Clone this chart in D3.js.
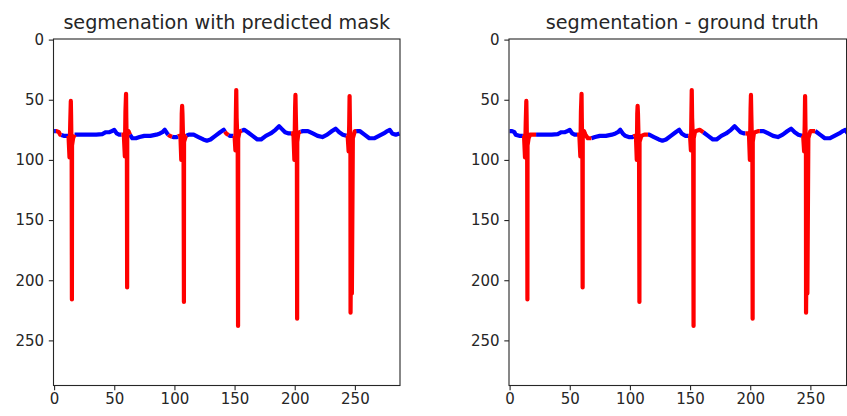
<!DOCTYPE html>
<html>
<head>
<meta charset="utf-8">
<script src="https://cdn.jsdelivr.net/npm/d3@7"></script>
<style>
  html, body { margin: 0; padding: 0; background: #fff; }
  svg { display: block; }
  .tick text { font-family: "DejaVu Sans", sans-serif; fill: #262626; }
  .title { font-family: "DejaVu Sans", sans-serif; fill: #262626; }
</style>
</head>
<body>
<svg id="chart" width="847" height="416"></svg>
<script>
// ECG trace rasterised into a 288 x 288 image (x = sample column, y = image row, 0 at top)
const signalX = [
  0, 2, 4, 5, 8, 11,
  12, 12.8, 13.4, 13.9, 14.1, 14.6, 14.8, 14.9, 15.8, 17,
  20, 25, 30, 35, 40, 43, 46, 48, 50, 52, 54, 57,
  58, 58.8, 59.3, 59.8, 60.0, 60.5, 60.7, 60.8, 61.8, 63,
  65, 68, 71, 75, 80, 85, 88, 90, 92, 94, 96, 99, 102, 104,
  105, 105.7, 106.1, 106.4, 106.7, 107.6, 107.9, 108.0, 109.5,
  112, 116, 120, 124, 127, 130, 134, 138, 141, 143, 146, 149,
  150, 150.7, 151.1, 151.4, 151.7, 152.6, 152.9, 153.0, 154,
  155, 158, 161, 165, 169, 172, 176, 180, 184, 187, 189, 192, 195, 198,
  199, 199.7, 200.3, 200.6, 200.9, 201.8, 202.0, 202.1, 203,
  204, 207, 211, 215, 219, 223, 227, 231, 234, 237, 240, 243,
  244, 244.8, 245.3, 245.6, 245.9, 246.3, 246.4, 247.4, 247.5, 248.3,
  250, 254, 258, 262, 266, 270, 274, 277, 279, 281, 284, 287
];
const signalY = [
  76, 76, 77, 79, 80, 80,
  80, 98, 70, 51, 62, 100, 216, 88, 82, 79,
  79, 79, 79, 79, 78.5, 77, 77, 76, 75, 78, 79, 79,
  80, 97, 60, 45, 65, 98, 206, 80, 76, 79,
  82, 82, 81, 80, 80, 79, 78, 77, 75, 78, 80, 81, 81, 80,
  80, 100, 62, 55, 62, 100, 218, 85, 80,
  79, 79, 81, 83, 84, 83, 80, 77, 75, 78, 80, 80,
  80, 92, 62, 42, 65, 90, 238, 82, 77,
  76, 75, 77, 80, 83, 83, 80, 78, 75, 72, 74, 77, 78, 78,
  80, 100, 58, 46, 62, 103, 232, 85, 78,
  77, 76, 76, 78, 80, 81, 79, 76, 74, 77, 79, 80,
  80, 93, 70, 47, 72, 90, 227, 93, 211, 82,
  76, 76, 79, 82, 82, 80, 78, 76, 75, 78, 79, 78
];

// Mask columns labelled as QRS (drawn red), start/end sample for each run
const predictedStart = [1.5, 12, 56, 95, 103, 142, 149, 197, 243];
const predictedEnd   = [6, 17, 63, 98, 110, 145, 156, 205, 251];
const truthStart = [11, 56, 103, 148.5, 196, 243];
const truthEnd   = [22, 68, 115, 161, 208, 254];

const panelTitles = ["segmenation with predicted mask", "segmentation - ground truth"];
const tickValues = [0, 50, 100, 150, 200, 250];
const imageSize = 288;

const svg = d3.select("#chart");
const side = 346.5;
const panels = [
  { left: 53.5, top: 39, title: panelTitles[0], starts: predictedStart, ends: predictedEnd },
  { left: 509,  top: 39, title: panelTitles[1], starts: truthStart,     ends: truthEnd }
];

const points = signalX.map((x, i) => [x, signalY[i]]);

// piece of the trace between columns s and e, with the ends cut at s and e
function run(s, e) {
  const out = [];
  for (let i = 0; i < points.length; i++) {
    const [x0, y0] = points[i];
    if (i > 0) {
      const [xp, yp] = points[i - 1];
      if (xp < s && x0 > s) out.push([s, yp + (y0 - yp) * (s - xp) / (x0 - xp)]);
    }
    if (x0 >= s && x0 <= e) out.push([x0, y0]);
    if (i < points.length - 1) {
      const [xn, yn] = points[i + 1];
      if (x0 < e && xn > e) out.push([e, y0 + (yn - y0) * (e - x0) / (xn - x0)]);
    }
  }
  return out;
}

const defs = svg.append("defs");
defs.append("filter").attr("id", "soft")
  .attr("x", "-5%").attr("y", "-5%").attr("width", "110%").attr("height", "110%")
  .append("feGaussianBlur").attr("stdDeviation", 0.45);

panels.forEach((p, idx) => {
  const x = d3.scaleLinear().domain([-0.5, imageSize - 0.5]).range([p.left, p.left + side]);
  const y = d3.scaleLinear().domain([-0.5, imageSize - 0.5]).range([p.top, p.top + side]);

  const g = svg.append("g");

  const clipId = "clip" + idx;
  defs.append("clipPath").attr("id", clipId)
    .append("rect").attr("x", p.left).attr("y", p.top).attr("width", side).attr("height", side);

  const line = d3.line().x(d => x(d[0])).y(d => y(d[1]));
  const plot = g.append("g").attr("clip-path", `url(#${clipId})`)
    .append("g").attr("filter", "url(#soft)");

  // unlabelled stretches between the runs
  const gapStarts = [-0.5].concat(p.ends);
  const gapEnds = p.starts.concat([imageSize]);
  gapStarts.forEach((s, i) => {
    plot.append("path")
      .attr("d", line(run(s, gapEnds[i])))
      .attr("fill", "none")
      .attr("stroke", "#0000ff")
      .attr("stroke-width", 4.2)
      .attr("stroke-linejoin", "round")
      .attr("stroke-linecap", "butt");
  });

  p.starts.forEach((s, i) => {
    plot.append("path")
      .attr("d", line(run(s, p.ends[i])))
      .attr("fill", "none")
      .attr("stroke", "#ff0000")
      .attr("stroke-width", 4.2)
      .attr("stroke-linejoin", "round")
      .attr("stroke-linecap", "butt");
  });

  // axes
  const ax = g.append("g").attr("transform", `translate(0,${p.top + side})`)
    .call(d3.axisBottom(x).tickValues(tickValues).tickSize(4.7).tickPadding(3.5));
  const ay = g.append("g").attr("transform", `translate(${p.left},0)`)
    .call(d3.axisLeft(y).tickValues(tickValues).tickSize(4.7).tickPadding(4.7));
  [ax, ay].forEach(a => {
    a.select(".domain").remove();
    a.selectAll(".tick line").attr("stroke", "#262626").attr("stroke-width", 1.1);
    a.selectAll(".tick text").style("font-size", "15px");
  });

  // frame
  g.append("rect")
    .attr("x", p.left).attr("y", p.top).attr("width", side).attr("height", side)
    .attr("fill", "none").attr("stroke", "#262626").attr("stroke-width", 1.1);

  g.append("text").attr("class", "title")
    .attr("x", p.left + side / 2).attr("y", 28.5)
    .attr("text-anchor", "middle")
    .style("font-size", "19.2px")
    .text(p.title);
});

// border at the right edge of the figure
svg.append("line")
  .attr("x1", 846.5).attr("x2", 846.5).attr("y1", 39).attr("y2", 385.5)
  .attr("stroke", "#262626").attr("stroke-width", 1);
</script>
</body>
</html>
